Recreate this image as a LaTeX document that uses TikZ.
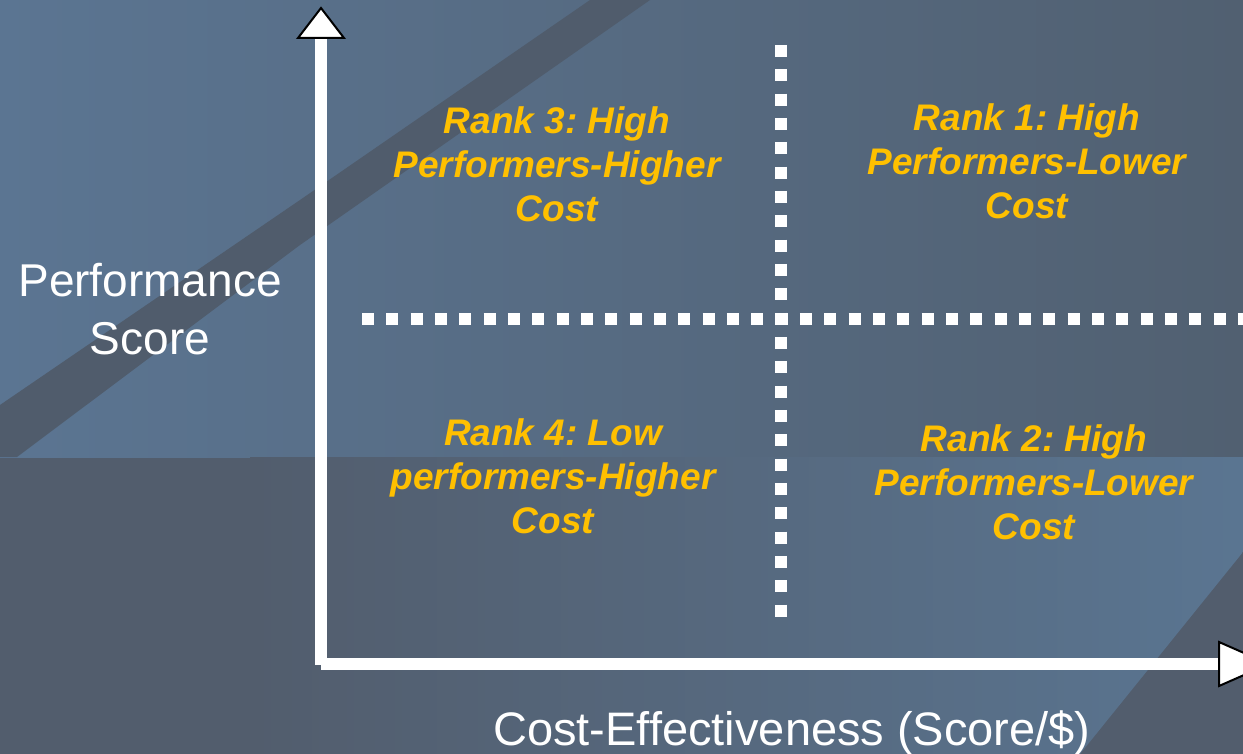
\documentclass[tikz,border=0pt]{standalone}
\usepackage{fontspec}
\setmainfont{Liberation Sans}
\frenchspacing
\definecolor{bgTopL}{HTML}{5B7592}
\definecolor{bgTopR}{HTML}{516071}
\definecolor{bgDark}{HTML}{525D6D}
\definecolor{bandCol}{HTML}{505C6C}
\definecolor{bgLight}{HTML}{5A7591}
\definecolor{rankYellow}{HTML}{FFC000}
\begin{document}
\begin{tikzpicture}[x=1pt,y=-1pt,
  axisline/.style={white, line width=12pt},
  axishead/.style={fill=white, draw=black, line width=2pt, line join=miter},
  dots/.style={white, line width=12pt, dash pattern=on 12pt off 12.33pt},
  rank/.style={text=rankYellow, font=\fontsize{37}{44}\selectfont\bfseries\itshape, align=center, anchor=north, inner sep=0pt},
  axlabel/.style={text=white, inner sep=0pt}]
\useasboundingbox (0,0) rectangle (1243,754);
\clip (0,0) rectangle (1243,754);
% background
\fill[bgDark] (0,0) rectangle (1243,754);
\shade[left color=bgTopL, right color=bgTopR] (0,0) rectangle (1243,457);
\fill[bandCol] (0,405) -- (300,200) -- (590,0) -- (650,0) -- (300,245) -- (17,457) -- (0,457) -- cycle;
\begin{scope}
  \clip (0,457) -- (1243,457) -- (1243,552) -- (1080,754) -- (0,754) -- cycle;
  \shade[left color=bgDark, right color=bgLight] (250,457) rectangle (1243,754);
\end{scope}
% axes
\coordinate (O) at (321,664);
\coordinate (Ybot) at (321,665);
\coordinate (Ytop) at (321,38);
\coordinate (Xend) at (1219,664);
\draw[axisline] (Ybot) -- (Ytop);
\draw[axisline] (O) -- (Xend);
\draw[axishead] (Ytop) ++(-23,0) -- ++(23,-30) -- ++(23,30) -- cycle;
\draw[axishead] (Xend) ++(0,-22) -- ++(50,22) -- ++(-50,22) -- cycle;
% quadrant dividers
\coordinate (HL) at (362,319);
\coordinate (HR) at (1260,319);
\coordinate (VT) at (781,45);
\coordinate (VB) at (781,617);
\draw[dots] (HL) -- (HR);
\draw[dots] (VT) -- (VB);
% labels
\node[rank] (r3) at (557,106.5) {Rank 3: High\\Performers-Higher\\Cost};
\node[rank] (r1) at (1027,103.5) {Rank 1: High\\Performers-Lower\\Cost};
\node[rank] (r4) at (553,418.5) {Rank 4: Low\\performers-Higher\\Cost};
\node[rank] (r2) at (1034,424.5) {Rank 2: High\\Performers-Lower\\Cost};
\node[axlabel, align=center, anchor=north, font=\fontsize{46}{58}\selectfont] (ylab) at (150,263) {Performance\\Score};
\node[axlabel, anchor=base, font=\fontsize{47}{56}\selectfont] (xlab) at (792,745) {Cost-Effectiveness (Score/\$)};
\end{tikzpicture}
\end{document}
